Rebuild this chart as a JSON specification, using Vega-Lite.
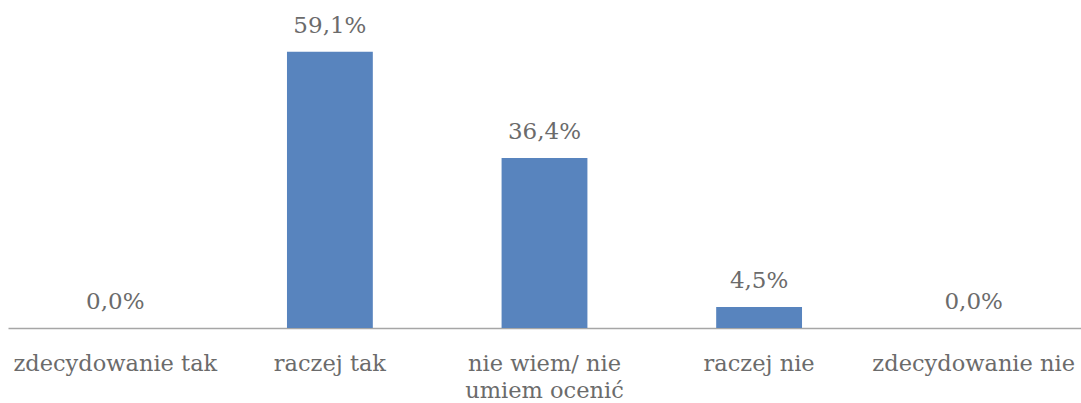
{
  "$schema": "https://vega.github.io/schema/vega-lite/v6.json",
  "autosize": {"type": "none"},
  "width": 1073,
  "height": 328,
  "padding": {"left": 8, "top": 0, "right": 0, "bottom": 75},
  "background": "white",
  "config": {"view": {"stroke": null}, "font": "DejaVu Serif"},
  "data": {"values": [
    {"kategoria": "zdecydowanie tak", "wartosc": 0.0, "etykieta": "0,0%"},
    {"kategoria": "raczej tak", "wartosc": 59.1, "etykieta": "59,1%"},
    {"kategoria": "nie wiem/ nie umiem ocenić", "wartosc": 36.4, "etykieta": "36,4%"},
    {"kategoria": "raczej nie", "wartosc": 4.5, "etykieta": "4,5%"},
    {"kategoria": "zdecydowanie nie", "wartosc": 0.0, "etykieta": "0,0%"}
  ]},
  "encoding": {
    "x": {
      "field": "kategoria", "type": "nominal", "sort": null,
      "scale": {"paddingInner": 0.6, "paddingOuter": 0.3},
      "axis": {
        "title": null, "labelAngle": 0, "ticks": false,
        "domainColor": "#a6a6a6", "domainWidth": 1.5,
        "labelFont": "DejaVu Serif", "labelFontSize": 22.5, "labelColor": "#6b6b6b",
        "labelPadding": 24, "labelLineHeight": 27, "labelBaseline": "top",
        "labelLimit": 0, "labelOverlap": false,
        "labelExpr": "datum.value == 'nie wiem/ nie umiem ocenić' ? ['nie wiem/ nie', 'umiem ocenić'] : datum.value"
      }
    },
    "y": {
      "field": "wartosc", "type": "quantitative",
      "scale": {"domain": [0, 70.2], "nice": false},
      "axis": null
    }
  },
  "layer": [
    {"mark": {"type": "bar", "color": "#5884be"}},
    {"mark": {"type": "text", "dy": -26, "font": "DejaVu Serif", "fontSize": 23, "color": "#6b6b6b", "baseline": "middle"},
     "encoding": {"text": {"field": "etykieta"}}}
  ]
}
